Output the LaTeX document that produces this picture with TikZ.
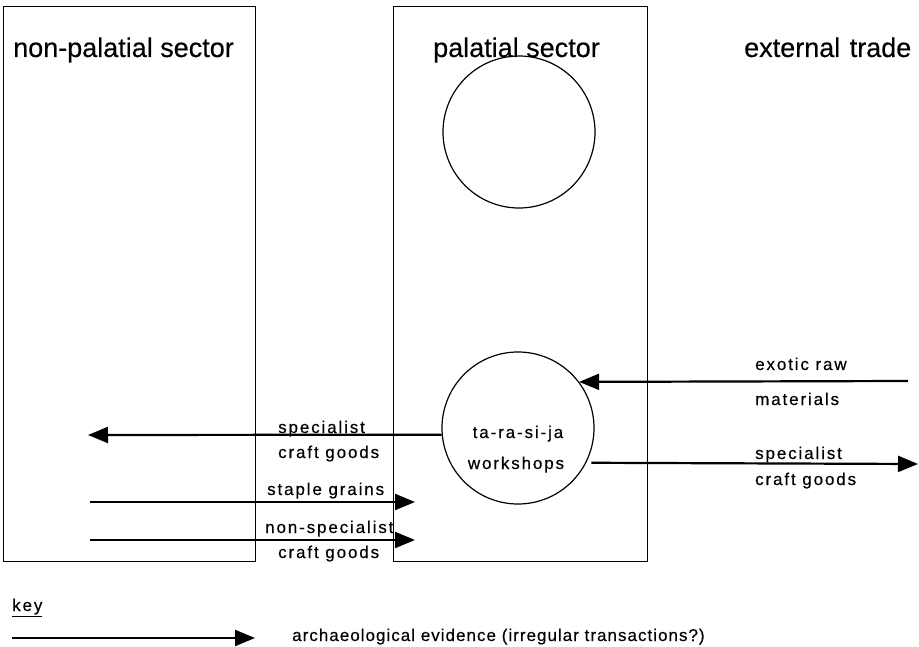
\documentclass[tikz,border=0pt]{standalone}
\usepackage{fontspec}
\setmainfont{Liberation Sans}
\newfontfamily\titlefont[FakeBold=0.4]{Liberation Sans}
\newfontfamily\lblfont[LetterSpace=11,FakeBold=0.3]{Liberation Sans}
\newfontfamily\keyfont[LetterSpace=6,FakeBold=0.3]{Liberation Sans}
\usetikzlibrary{arrows.meta}
\begin{document}
\begin{tikzpicture}[x=1pt,y=-1pt,
  title/.style={font=\titlefont\fontsize{27}{30}\selectfont, anchor=base west, inner sep=0},
  lbl/.style={font=\lblfont\fontsize{17}{19}\selectfont, anchor=base west, inner sep=0},
  keylbl/.style={font=\keyfont\fontsize{17}{19}\selectfont, anchor=base west, inner sep=0},
  flow/.style={line width=2.2pt, -{Triangle[length=20pt,width=16pt]}},
  sector/.style={draw, line width=1.2pt, anchor=north west, inner sep=0, minimum height=555pt},
  unit/.style={circle, draw, line width=1.2pt, minimum size=152pt, inner sep=0}]
\useasboundingbox (0,0) rectangle (919,647);
% sectors
\node[sector, minimum width=252pt] (np) at (3,6) {};
\node[sector, minimum width=254pt] (ps) at (393,6) {};
% titles
\node[title] (tnp) at (13,57) {non-palatial sector};
\node[title] (tps) at (433,57) {palatial sector};
\node[title] (tex) at (744,57) {external\hspace{2pt} trade};
% circles
\node[unit] (pal) at (519,132) {};
\node[unit] (ws) at (518,428) {};
\node[lbl, anchor=base] (ws1) at (518,438) {ta-ra-si-ja};
\node[lbl, anchor=base] (ws2) at (516,469) {workshops};
% coordinates
\coordinate (exoE) at (908,381);
\coordinate (leftE) at (88,435);
\coordinate (outE) at (918,464);
\coordinate (sgS) at (90,502);
\coordinate (sgE) at (415,502);
\coordinate (nsS) at (90,540);
\coordinate (nsE) at (415,540);
\coordinate (keyS) at (12,638);
\coordinate (keyE) at (255,638);
% arrows
\draw[flow] (exoE) -- (ws.37);
\draw[flow] (ws.185) -- (leftE);
\draw[flow] ([xshift=5pt]ws.-27) -- (outE);
\draw[flow] (sgS) -- (sgE);
\draw[flow] (nsS) -- (nsE);
% labels
\node[lbl] (l1) at (278,433) {specialist};
\node[lbl] (l2) at (278,458) {craft goods};
\node[lbl] (l3) at (267,495) {staple grains};
\node[lbl] (l4) at (265,533) {non-specialist};
\node[lbl] (l5) at (278,558) {craft goods};
\node[lbl] (r1) at (755,370) {exotic raw};
\node[lbl] (r2) at (755,405) {materials};
\node[lbl] (r3) at (755,459) {specialist};
\node[lbl] (r4) at (755,485) {craft goods};
% key
\node[lbl] (key) at (12,611) {\underline{key}};
\draw[flow] (keyS) -- (keyE);
\node[keylbl] (keytxt) at (292,641) {archaeological evidence (irregular transactions?)};
\end{tikzpicture}
\end{document}
